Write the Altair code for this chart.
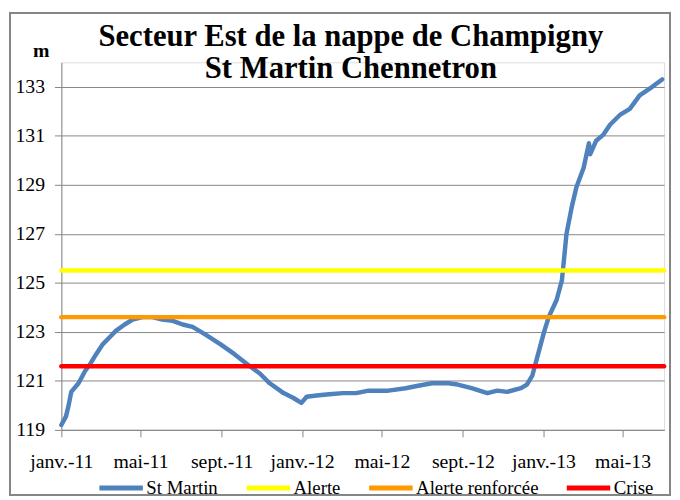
import altair as alt
import pandas as pd

# --- data ---
dates = [
    "2011-01-01", "2011-01-08", "2011-01-12", "2011-01-16", "2011-01-27", "2011-02-06",
    "2011-02-14", "2011-02-23", "2011-03-05", "2011-03-16", "2011-03-25", "2011-04-07",
    "2011-04-19", "2011-05-04", "2011-05-19", "2011-06-03", "2011-06-19", "2011-07-04",
    "2011-07-19", "2011-08-07", "2011-08-30", "2011-09-20", "2011-10-09", "2011-10-29",
    "2011-11-13", "2011-12-04", "2011-12-19", "2011-12-31", "2012-01-08", "2012-01-23",
    "2012-02-11", "2012-03-03", "2012-03-23", "2012-04-11", "2012-05-11", "2012-06-06",
    "2012-06-25", "2012-07-16", "2012-08-10", "2012-08-24", "2012-09-14", "2012-10-08",
    "2012-10-23", "2012-11-07", "2012-11-28", "2012-12-07", "2012-12-15", "2012-12-22",
    "2013-01-02", "2013-01-09", "2013-01-21", "2013-01-29", "2013-02-01", "2013-02-05",
    "2013-02-13", "2013-02-20", "2013-03-03", "2013-03-07", "2013-03-11", "2013-03-13",
    "2013-03-22", "2013-04-02", "2013-04-12", "2013-04-27", "2013-05-12", "2013-05-27",
    "2013-06-15", "2013-06-30",
]
st_martin = [
    119.2, 119.55, 120.0, 120.55, 120.9, 121.4,
    121.7, 122.1, 122.5, 122.8, 123.05, 123.3,
    123.5, 123.6, 123.6, 123.5, 123.45, 123.3,
    123.2, 122.9, 122.5, 122.1, 121.7, 121.3,
    120.9, 120.5, 120.3, 120.1, 120.35, 120.4,
    120.45, 120.5, 120.5, 120.6, 120.6, 120.7,
    120.8, 120.9, 120.9, 120.85, 120.7, 120.5,
    120.6, 120.55, 120.7, 120.85, 121.2, 121.9,
    123.0, 123.6, 124.3, 125.1, 125.9, 127.0,
    128.1, 128.9, 129.7, 130.2, 130.7, 130.25,
    130.8, 131.05, 131.45, 131.85, 132.1, 132.65,
    133.0, 133.3,
]

series_names = ["St Martin", "Alerte", "Alerte renforcée", "Crise"]
series_colors = ["#4F81BD", "#FFFF00", "#FF9900", "#FF0000"]
threshold_names = ["Alerte", "Alerte renforcée", "Crise"]
threshold_values = [125.5, 123.6, 121.6]

x_domain = ["2011-01-01", "2013-07-03"]
x_tick_dates = ["2011-01-01", "2011-05-01", "2011-09-01", "2012-01-01",
                "2012-05-01", "2012-09-01", "2013-01-01", "2013-05-01"]
x_tick_labels = ["janv.-11", "mai-11", "sept.-11", "janv.-12",
                 "mai-12", "sept.-12", "janv.-13", "mai-13"]
y_ticks = [119, 121, 123, 125, 127, 129, 131, 133]
y_domain = [119, 134]

title_lines = ["Secteur Est de la nappe de Champigny", "St Martin Chennetron"]
y_title = "m"

# --- build table ---
rows = [{"date": d, "value": v, "series": "St Martin", "order": i}
        for i, (d, v) in enumerate(zip(dates, st_martin))]
for name, val in zip(threshold_names, threshold_values):
    rows.append({"date": x_domain[0], "value": val, "series": name, "order": 0})
    rows.append({"date": x_domain[1], "value": val, "series": name, "order": 1})
df = pd.DataFrame(rows)

tick_ms = [int(pd.Timestamp(d, tz="UTC").value // 10**6) for d in x_tick_dates]
label_map = ",".join(f"'{d}':'{lab}'" for d, lab in zip(x_tick_dates, x_tick_labels))
label_expr = "{" + label_map + "}[utcFormat(datum.value, '%Y-%m-%d')]"

SERIF = "Times New Roman, Liberation Serif, serif"

lines = alt.Chart(df).mark_line(strokeWidth=4.5, strokeCap="round", strokeJoin="round").encode(
    x=alt.X("date:T",
            scale=alt.Scale(type="utc", domain=x_domain),
            axis=alt.Axis(title=None, values=tick_ms, labelExpr=label_expr,
                          grid=False, tickSize=7, labelPadding=15,
                          labelFont=SERIF, labelFontSize=20, labelColor="black",
                          domainColor="#868686", tickColor="#868686",
                          labelFlush=False, labelOverlap=False)),
    y=alt.Y("value:Q",
            scale=alt.Scale(domain=y_domain, nice=False, zero=False),
            axis=alt.Axis(title=y_title, values=y_ticks, grid=True, gridColor="#868686",
                          gridWidth=1, tickSize=7, labelPadding=10,
                          labelFont=SERIF, labelFontSize=20, labelColor="black",
                          domainColor="#868686", tickColor="#868686",
                          titleAngle=0, titleX=-21, titleY=-2, titleAlign="center",
                          titleBaseline="bottom", titleFont=SERIF, titleFontSize=20,
                          titleFontWeight="bold", titleColor="black")),
    color=alt.Color("series:N",
                    scale=alt.Scale(domain=series_names, range=series_colors),
                    sort=series_names,
                    legend=alt.Legend(title=None, orient="none", legendX=36, legendY=406,
                                      direction="horizontal", symbolType="stroke",
                                      symbolSize=1936, symbolStrokeWidth=5,
                                      labelFont=SERIF, labelFontSize=19, labelColor="black",
                                      labelOffset=1, columnPadding=18, padding=0,
                                      symbolOffset=0)),
    order="order:Q",
)

frame = alt.Chart(df).mark_rect(filled=False, stroke="#868686", strokeWidth=1.5, clip=False).encode(
    x=alt.value(-52), x2=alt.value(616), y=alt.value(-50), y2=alt.value(438)
)

chart = alt.layer(frame, lines).properties(
    width=610, height=372,
    padding={"left": 54, "top": 52, "right": 8, "bottom": 66},
    autosize=alt.AutoSizeParams(type="none"),
    title=alt.TitleParams(text=title_lines, font=SERIF, fontSize=31, fontWeight="bold",
                          color="black", anchor="middle", dx=-12, dy=78, lineHeight=33),
).configure_view(stroke=None).configure(background="white")

chart.save("out.html", embed_options={"renderer": "svg", "actions": False})
